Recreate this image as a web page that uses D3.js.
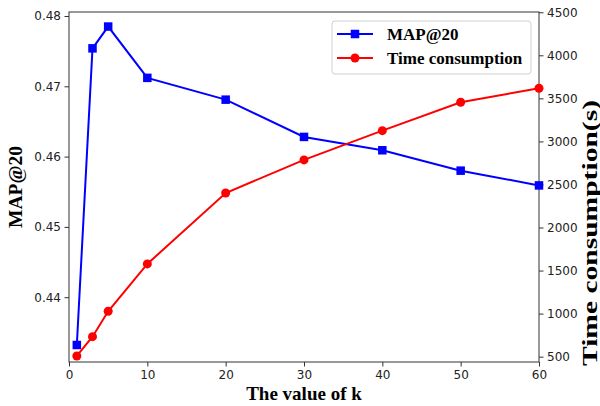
<!DOCTYPE html>
<html>
<head>
<meta charset="utf-8">
<script src="https://cdn.jsdelivr.net/npm/d3@7"></script>
<style>
  body { margin: 0; background: #fff; }
  svg { display: block; }
  .tick text { font-family: "DejaVu Sans", sans-serif; font-size: 12px; fill: #222; }
  .tick line, .domain { stroke: #333; }
  .label { font-family: "Liberation Serif", "Times New Roman", serif; font-weight: bold; fill: #000; }
</style>
</head>
<body>
<div id="wrapper"></div>
<script>
// values of k
const kValues = [1, 3, 5, 10, 20, 30, 40, 50, 60]
// MAP@20 (left axis)
const mapValues = [0.4332, 0.4754, 0.4785, 0.4712, 0.4681, 0.4628, 0.4609, 0.4580, 0.4559]
// time consumption in seconds (right axis)
const timeValues = [508, 732, 1027, 1577, 2401, 2785, 3125, 3455, 3617]

const xTicks = [0, 10, 20, 30, 40, 50, 60]
const leftTicks = [0.44, 0.45, 0.46, 0.47, 0.48]
const rightTicks = [500, 1000, 1500, 2000, 2500, 3000, 3500, 4000, 4500]

function drawChart() {
  // 1. chart dimensions
  let dimensions = {
    width: 600,
    height: 406,
    margin: { top: 12, right: 61, bottom: 44, left: 69 }
  }
  dimensions.boundedWidth = dimensions.width
    - dimensions.margin.left - dimensions.margin.right
  dimensions.boundedHeight = dimensions.height
    - dimensions.margin.top - dimensions.margin.bottom

  // 2. canvas
  const wrapper = d3.select("#wrapper")
    .append("svg")
      .attr("width", dimensions.width)
      .attr("height", dimensions.height)

  const bounds = wrapper.append("g")
    .attr("transform", `translate(${dimensions.margin.left},${dimensions.margin.top})`)

  // 3. scales
  const xScale = d3.scaleLinear()
    .domain([0, 60])
    .range([0, dimensions.boundedWidth])

  const yLeft = d3.scaleLinear()
    .domain([0.43078, 0.48057])
    .range([dimensions.boundedHeight, 0])

  const yRight = d3.scaleLinear()
    .domain([438, 4503])
    .range([dimensions.boundedHeight, 0])

  // 4. axes
  bounds.append("g")
    .attr("transform", `translate(0,${dimensions.boundedHeight})`)
    .call(d3.axisBottom(xScale).tickValues(xTicks).tickSize(4.5).tickPadding(3.5))

  bounds.append("g")
    .call(d3.axisLeft(yLeft).tickValues(leftTicks).tickFormat(d3.format(".2f")).tickSize(4.5).tickPadding(3.5))

  bounds.append("g")
    .attr("transform", `translate(${dimensions.boundedWidth},0)`)
    .call(d3.axisRight(yRight).tickValues(rightTicks).tickFormat(d3.format("d")).tickSize(4.5).tickPadding(3.5))

  // plain spines, no end caps
  bounds.selectAll(".domain").remove()
  bounds.append("rect")
    .attr("width", dimensions.boundedWidth)
    .attr("height", dimensions.boundedHeight)
    .attr("fill", "none")
    .attr("stroke", "#333")
    .attr("stroke-width", 1)

  // 5. lines + markers
  const points = kValues.map((k, i) => ({ k, map: mapValues[i], time: timeValues[i] }))

  const mapLine = d3.line()
    .x(d => xScale(d.k))
    .y(d => yLeft(d.map))
  const timeLine = d3.line()
    .x(d => xScale(d.k))
    .y(d => yRight(d.time))

  bounds.append("path")
    .datum(points)
    .attr("d", mapLine)
    .attr("fill", "none")
    .attr("stroke", "#0000ff")
    .attr("stroke-width", 2)

  const squareSize = 8.5
  bounds.append("g").selectAll("rect")
    .data(points)
    .join("rect")
      .attr("x", d => xScale(d.k) - squareSize / 2)
      .attr("y", d => yLeft(d.map) - squareSize / 2)
      .attr("width", squareSize)
      .attr("height", squareSize)
      .attr("fill", "#0000ff")

  bounds.append("path")
    .datum(points)
    .attr("d", timeLine)
    .attr("fill", "none")
    .attr("stroke", "#ff0000")
    .attr("stroke-width", 2)

  bounds.append("g").selectAll("circle")
    .data(points)
    .join("circle")
      .attr("cx", d => xScale(d.k))
      .attr("cy", d => yRight(d.time))
      .attr("r", 4.5)
      .attr("fill", "#ff0000")

  // 6. axis labels
  wrapper.append("text")
    .attr("class", "label")
    .attr("x", dimensions.margin.left + dimensions.boundedWidth / 2)
    .attr("y", 400)
    .attr("text-anchor", "middle")
    .style("font-size", "19px")
    .text("The value of k")

  wrapper.append("text")
    .attr("class", "label")
    .attr("transform", `translate(22,${dimensions.margin.top + dimensions.boundedHeight / 2}) rotate(-90)`)
    .attr("text-anchor", "middle")
    .style("font-size", "19.5px")
    .text("MAP@20")

  // right label is stretched lengthwise in the original, running to the figure edge
  wrapper.append("text")
    .attr("class", "label")
    .attr("transform", "translate(597,366) rotate(-90)")
    .attr("textLength", 266)
    .attr("lengthAdjust", "spacingAndGlyphs")
    .style("font-size", "20px")
    .text("Time consumption(s)")

  // 7. legend
  const legend = wrapper.append("g")
    .attr("transform", "translate(332,21)")

  legend.append("rect")
    .attr("width", 199)
    .attr("height", 53)
    .attr("rx", 3)
    .attr("fill", "#fff")
    .attr("fill-opacity", 0.8)
    .attr("stroke", "#d0d0d0")

  const legendItems = [
    { name: "MAP@20", color: "#0000ff", shape: "square" },
    { name: "Time consumption", color: "#ff0000", shape: "circle" }
  ]

  const items = legend.selectAll(".item")
    .data(legendItems)
    .join("g")
      .attr("class", "item")
      .attr("transform", (d, i) => `translate(0,${13 + i * 24})`)

  items.append("line")
    .attr("x1", 5).attr("x2", 41)
    .attr("stroke", d => d.color)
    .attr("stroke-width", 2)

  items.filter(d => d.shape === "square").append("rect")
    .attr("x", 23 - squareSize / 2)
    .attr("y", -squareSize / 2)
    .attr("width", squareSize)
    .attr("height", squareSize)
    .attr("fill", d => d.color)

  items.filter(d => d.shape === "circle").append("circle")
    .attr("cx", 23)
    .attr("r", 4.5)
    .attr("fill", d => d.color)

  items.append("text")
    .attr("class", "label")
    .attr("x", 55)
    .attr("y", 5.5)
    .style("font-size", "17px")
    .text(d => d.name)
}

drawChart()
</script>
</body>
</html>
